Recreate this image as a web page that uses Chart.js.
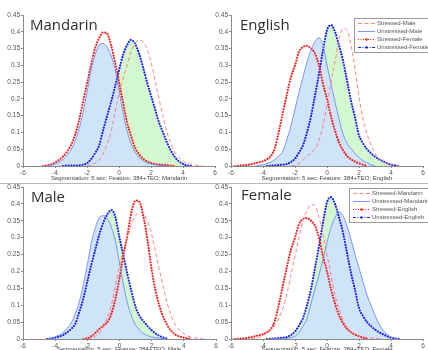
<!DOCTYPE html>
<html>
<head>
<meta charset="utf-8">
<script src="https://cdn.jsdelivr.net/npm/chart.js@4.4.1/dist/chart.umd.min.js"></script>
<style>
html, body { margin: 0; padding: 0; background: #fff; }
body { width: 428px; height: 350px; position: relative; overflow: hidden; font-family: "Liberation Sans", Arial, sans-serif; }
canvas { position: absolute; }
.title { position: absolute; font-family: "Open Sans", sans-serif; font-size: 15px; color: #2e2e2e; line-height: 1; white-space: nowrap; }
.xlabel { position: absolute; font-size: 6px; color: #444; line-height: 1; white-space: nowrap; transform: translateX(-50%); }
.rule { position: absolute; left: 0; top: 183px; width: 428px; height: 1px; background: #b8b8b8; }
</style>
</head>
<body>
<canvas id="pMandarin" width="222" height="175" style="left:0;top:0"></canvas>
<canvas id="pEnglish" width="223" height="175" style="left:205px;top:0"></canvas>
<canvas id="pMale" width="222" height="175" style="left:0;top:175px"></canvas>
<canvas id="pFemale" width="223" height="175" style="left:205px;top:175px"></canvas>
<div class="rule"></div>
<div class="title" style="left:30px;top:17px">Mandarin</div>
<div class="title" style="left:240px;top:17px">English</div>
<div class="title" style="left:31px;top:189px">Male</div>
<div class="title" style="left:241px;top:187px">Female</div>
<div class="xlabel" style="left:119px;top:175px">Segmentation: 5 sec; Feature: 384+TEO; Mandarin</div>
<div class="xlabel" style="left:327px;top:175px">Segmentation: 5 sec; Feature: 384+TEO; English</div>
<div class="xlabel" style="left:119px;top:346px">Segmentation: 5 sec; Feature: 384+TEO; Male</div>
<div class="xlabel" style="left:327px;top:346px">Segmentation: 5 sec; Feature: 384+TEO; Female</div>
<script>
// shared x grid of the density estimates
var xs = [-5.75, -5.5, -5.25, -5,
  -4.75, -4.5, -4.25, -4,
  -3.75, -3.5, -3.25, -3,
  -2.75, -2.5, -2.25, -2,
  -1.75, -1.5, -1.25, -1,
  -0.75, -0.5, -0.25, 0,
  0.25, 0.5, 0.75, 1,
  1.25, 1.5, 1.75, 2,
  2.25, 2.5, 2.75, 3,
  3.25, 3.5, 3.75, 4,
  4.25, 4.5, 4.75, 5,
  5.25];
var _ = null;

// Mandarin, male, stressed
var mandMaleS = [_, _, _, _,
  _, _, _, _,
  _, _, _, _,
  _, _, _, 0,
  .003, .008, .018, .035,
  .065, .1, .16, .215,
  .26, .3, .34, .365,
  .375, .37, .35, .31,
  .255, .2, .148, .1,
  .065, .04, .025, .015,
  .009, .005, .003, .001,
  0];
// Mandarin, male, unstressed
var mandMaleU = [_, _, _, _,
  _, 0, .002, .006,
  .012, .02, .032, .048,
  .075, .11, .16, .22,
  .285, .33, .36, .365,
  .355, .33, .29, .225,
  .16, .105, .068, .042,
  .026, .016, .01, .006,
  .004, .002, .001, 0,
  _, _, _, _,
  _, _, _, _,
  _];
// Mandarin, female, stressed
var mandFemS = [_, _, _, _,
  0, .002, .005, .01,
  .018, .028, .042, .062,
  .092, .135, .19, .245,
  .3, .35, .38, .398,
  .395, .36, .31, .25,
  .19, .13, .09, .055,
  .035, .022, .014, .009,
  .006, .004, .003, .002,
  .001, 0, _, _,
  _, _, _, _,
  _];
// Mandarin, female, unstressed
var mandFemU = [_, _, _, _,
  _, _, _, _,
  _, 0, .001, .001,
  .001, .002, .004, .008,
  .02, .038, .06, .105,
  .148, .19, .235, .285,
  .33, .36, .376, .365,
  .335, .295, .25, .21,
  .17, .13, .1, .07,
  .045, .026, .014, .006,
  .002, 0, _, _,
  _];
// English, male, stressed
var engMaleS = [_, _, _, _,
  _, _, _, _,
  _, _, _, _,
  _, _, 0, .002,
  .008, .018, .03, .04,
  .05, .075, .12, .18,
  .25, .31, .378, .41,
  .405, .36, .29, .205,
  .14, .095, .062, .038,
  .022, .012, .007, .004,
  .002, 0, _, _,
  _];
// English, male, unstressed
var engMaleU = [_, _, _, _,
  _, 0, .002, .004,
  .007, .012, .02, .03,
  .045, .08, .12, .17,
  .22, .265, .31, .345,
  .37, .382, .36, .3,
  .245, .19, .14, .095,
  .068, .052, .038, .026,
  .016, .009, .004, 0,
  _, _, _, _,
  _, _, _, _,
  _];
// English, female, stressed
var engFemS = [0, .001, .002, .003,
  .005, .008, .011, .014,
  .02, .03, .055, .105,
  .16, .215, .265, .3,
  .34, .355, .358, .35,
  .335, .3, .245, .2,
  .148, .105, .07, .047,
  .03, .02, .013, .008,
  .004, 0, _, _,
  _, _, _, _,
  _, _, _, _,
  _];
// English, female, unstressed
var engFemU = [_, _, _, _,
  _, _, _, _,
  0, .001, .002, .003,
  .004, .006, .012, .022,
  .04, .062, .1, .148,
  .21, .275, .345, .405,
  .42, .4, .36, .315,
  .255, .195, .145, .092,
  .068, .05, .038, .028,
  .02, .014, .008, .004,
  .002, 0, _, _,
  _];

var genderNames = ["Stressed-Male", "Unstressed-Male", "Stressed-Female", "Unstressed-Female"];
var langNames = ["Stressed-Mandarin", "Unstressed-Mandarin", "Stressed-English", "Unstressed-English"];
var xTicks = [-6, -4, -2, 0, 2, 4, 6];
var yTicks = [0, 0.05, 0.1, 0.15, 0.2, 0.25, 0.3, 0.35, 0.4, 0.45];

// one look per slot: dashed, solid+fill, dotted, dotted+fill
var styles = [
  { borderColor: 'rgba(255,105,105,0.8)', borderWidth: 1, borderDash: [4, 2.5], fill: false },
  { borderColor: 'rgba(105,135,255,0.85)', borderWidth: 1, fill: 'origin', backgroundColor: '#cfe3f9' },
  { borderColor: '#ff1a1a', borderWidth: 2.2, borderDash: [0, 2.8], borderCapStyle: 'round', fill: false },
  { borderColor: '#1a1aff', borderWidth: 2.2, borderDash: [0, 2.8], borderCapStyle: 'round', fill: 'origin', backgroundColor: '#d3f7cf' }
];
var legendDash = [[4, 2.5], [], [1, 1.5], [3, 1.5, 1, 1.5]];

var boxLegend = {
  id: 'boxLegend',
  afterDraw: function (chart, args, o) {
    if (!o || !o.show) return;
    var ctx = chart.ctx;
    ctx.save();
    ctx.fillStyle = '#fff';
    ctx.fillRect(o.x, o.y, o.w, o.h);
    ctx.strokeStyle = '#9a9a9a';
    ctx.lineWidth = 1;
    ctx.strokeRect(o.x + 0.5, o.y + 0.5, o.w - 1, o.h - 1);
    ctx.font = '6px "Liberation Sans", Arial, sans-serif';
    ctx.textBaseline = 'middle';
    chart.data.datasets.forEach(function (ds, i) {
      var yy = o.y + 5.5 + i * 8;
      ctx.strokeStyle = ds.borderColor;
      ctx.lineWidth = 1;
      ctx.setLineDash(legendDash[i]);
      ctx.beginPath();
      ctx.moveTo(o.x + 4, yy);
      ctx.lineTo(o.x + 21, yy);
      ctx.stroke();
      ctx.setLineDash([]);
      if (i >= 2) {
        ctx.fillStyle = ds.borderColor;
        ctx.beginPath();
        ctx.arc(o.x + 12.5, yy, 1.2, 0, Math.PI * 2);
        ctx.fill();
      }
      ctx.fillStyle = '#555';
      ctx.fillText(ds.label, o.x + 23, yy);
    });
    ctx.restore();
  }
};

function makePanel(id, series, names, pad, yw, legend) {
  var datasets = series.map(function (s, k) {
    var ds = {
      label: names[k],
      data: xs.map(function (x, i) { return { x: x, y: s[i] }; }),
      pointRadius: 0,
      cubicInterpolationMode: 'monotone',
      spanGaps: false
    };
    return Object.assign(ds, styles[k]);
  });
  var tickFont = { family: '"Liberation Sans", Arial, sans-serif', size: 6.5 };
  return new Chart(document.getElementById(id), {
    type: 'line',
    data: { datasets: datasets },
    options: {
      responsive: false,
      animation: false,
      devicePixelRatio: 1,
      layout: { padding: pad },
      plugins: {
        legend: { display: false },
        tooltip: { enabled: false },
        filler: { drawTime: 'beforeDatasetsDraw' },
        boxLegend: legend || { show: false }
      },
      scales: {
        x: {
          type: 'linear', min: -6, max: 6,
          afterBuildTicks: function (s) { s.ticks = xTicks.map(function (v) { return { value: v }; }); },
          ticks: { font: tickFont, color: '#555', padding: 1, maxRotation: 0, autoSkip: false,
            callback: function (v) { return String(v); } },
          grid: { drawOnChartArea: false, tickLength: 2, color: '#888' },
          border: { color: '#8a8a8a' },
          afterFit: function (s) { s.height = 9; }
        },
        y: {
          min: 0, max: 0.45,
          afterBuildTicks: function (s) { s.ticks = yTicks.map(function (v) { return { value: v }; }); },
          ticks: { font: tickFont, color: '#555', padding: 1,
            callback: function (v) { return String(v); } },
          grid: { drawOnChartArea: false, tickLength: 2, color: '#888' },
          border: { color: '#8a8a8a' },
          afterFit: function (s) { s.width = yw; }
        }
      }
    },
    plugins: [boxLegend]
  });
}

makePanel('pMandarin', [mandMaleS, mandMaleU, mandFemS, mandFemU], genderNames,
  { left: 0, right: 7, top: 15, bottom: 0 }, 23);
makePanel('pEnglish', [engMaleS, engMaleU, engFemS, engFemU], genderNames,
  { left: 0, right: 5, top: 15, bottom: 0 }, 26,
  { show: true, x: 149, y: 18, w: 75, h: 35 });
makePanel('pMale', [mandMaleS, mandMaleU, engMaleS, engMaleU], langNames,
  { left: 0, right: 6, top: 12, bottom: 2 }, 23);
makePanel('pFemale', [mandFemS, mandFemU, engFemS, engFemU], langNames,
  { left: 0, right: 5, top: 12, bottom: 2 }, 26,
  { show: true, x: 144, y: 13, w: 80, h: 35 });
</script>
</body>
</html>
